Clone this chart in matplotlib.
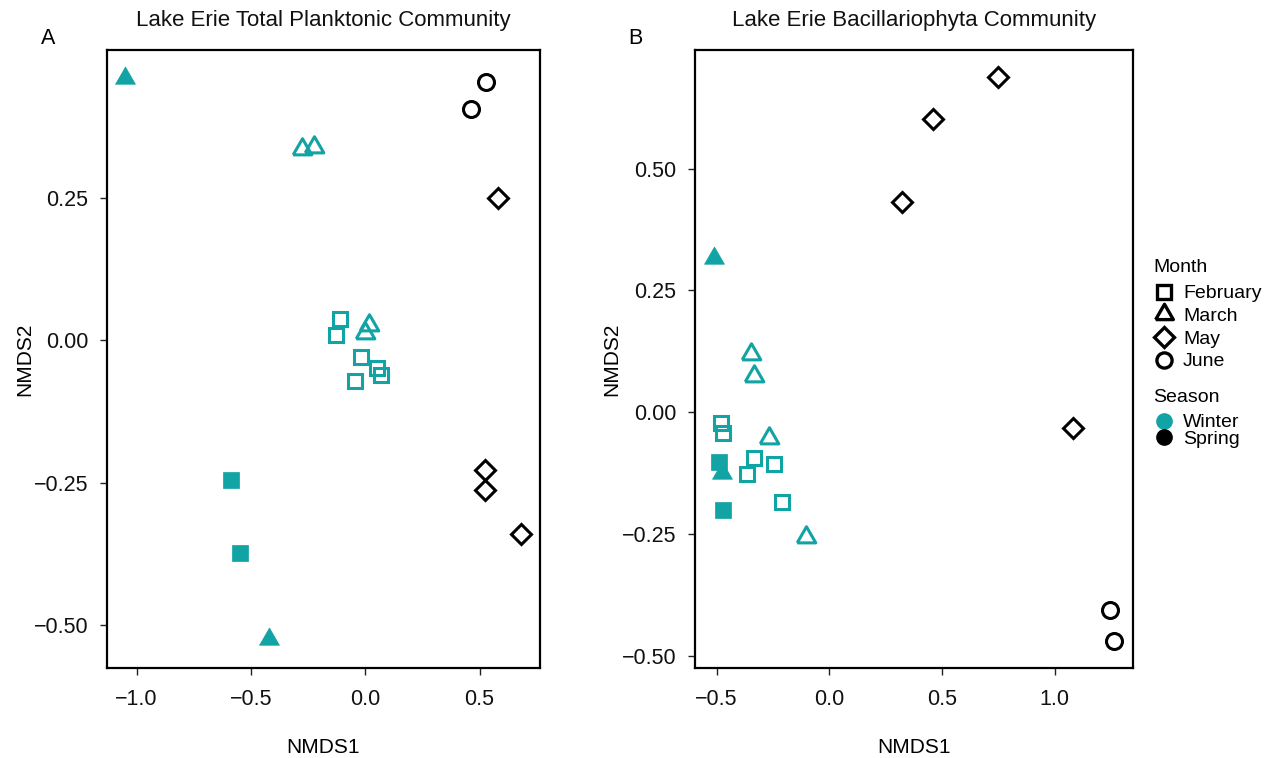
import numpy as np
import matplotlib
matplotlib.use("Agg")
import matplotlib.pyplot as plt
from matplotlib.lines import Line2D

plt.rcParams["font.family"] = ["Liberation Sans", "DejaVu Sans"]

TEAL = "#12a3a5"
BLACK = "#000000"

months = ["February", "March", "May", "June"]
seasons = ["Winter", "Spring"]
month_season = {"February": "Winter", "March": "Winter", "May": "Spring", "June": "Spring"}

# Panel A: Total planktonic community
a_month = ["March", "June", "June", "March", "March", "May",
           "February", "February", "February", "February", "February", "February",
           "March", "March", "February", "February", "March",
           "May", "May", "May"]
a_filled = [1, 0, 0, 0, 0, 0,
            0, 0, 0, 0, 0, 0,
            0, 0, 1, 1, 1,
            0, 0, 0]
a_x = [-1.05, 0.53, 0.462, -0.278, -0.224, 0.582,
       -0.111, -0.130, -0.020, 0.050, 0.069, -0.044,
       0.018, 0.000, -0.589, -0.548, -0.420,
       0.522, 0.522, 0.679]
a_y = [0.460, 0.453, 0.406, 0.335, 0.339, 0.249,
       0.038, 0.009, -0.030, -0.048, -0.061, -0.072,
       0.026, 0.012, -0.246, -0.374, -0.525,
       -0.228, -0.262, -0.340]

# Panel B: Bacillariophyta community
b_month = ["May", "May", "May", "May",
           "March", "March", "March", "March", "March",
           "February", "February", "February", "February", "February", "February",
           "February", "March", "February",
           "June", "June"]
b_filled = [0, 0, 0, 0,
            1, 0, 0, 0, 0,
            0, 0, 0, 0, 0, 0,
            1, 1, 1,
            0, 0]
b_x = [0.750, 0.462, 0.323, 1.079,
       -0.512, -0.349, -0.334, -0.266, -0.105,
       -0.482, -0.470, -0.334, -0.367, -0.245, -0.210,
       -0.488, -0.478, -0.473,
       1.246, 1.261]
b_y = [0.687, 0.601, 0.432, -0.031,
       0.316, 0.119, 0.075, -0.052, -0.255,
       -0.022, -0.043, -0.094, -0.126, -0.106, -0.184,
       -0.101, -0.125, -0.200,
       -0.406, -0.469]

# equilateral triangle marker centred on its centroid
TRI = [(-1.0, -0.577), (1.0, -0.577), (0.0, 1.155), (-1.0, -0.577)]
shape = {"February": "s", "March": TRI, "May": "D", "June": "o"}
open_size = {"February": 10.5, "March": 15.5, "May": 10.5, "June": 11.5}
fill_size = {"February": 11.8, "March": 16.5, "May": 11, "June": 12}
season_color = {"Winter": TEAL, "Spring": BLACK}


def draw_points(ax, mon, fil, xs, ys):
    for m, f, x, y in zip(mon, fil, xs, ys):
        c = season_color[month_season[m]]
        if f:
            ax.plot(x, y, marker=shape[m], ms=fill_size[m], mfc=c, mec=c,
                    mew=0.5, ls="none")
        else:
            ax.plot(x, y, marker=shape[m], ms=open_size[m], mfc="none", mec=c,
                    mew=2.2, ls="none")


def style_axes(ax, xlim, ylim, xticks, yticks, ylab_x):
    ax.set_xlim(*xlim)
    ax.set_ylim(*ylim)
    ax.set_xticks(xticks)
    ax.set_yticks(yticks)
    ax.set_xticklabels([f"{t:.1f}".replace("-", "\u2212") for t in xticks])
    ax.set_yticklabels([f"{t:.2f}".replace("-", "\u2212") for t in yticks])
    ax.tick_params(direction="out", length=5, width=1.0, labelsize=15.5,
                   colors="#222222", labelcolor="#111111")
    ax.tick_params(axis="x", pad=10)
    ax.tick_params(axis="y", pad=8.5)
    for sp in ax.spines.values():
        sp.set_linewidth(1.6)
        sp.set_color("black")
    ax.set_xlabel("NMDS1", fontsize=15)
    ax.set_ylabel("NMDS2", fontsize=15)
    ax.xaxis.set_label_coords(0.5, -0.113)
    ax.yaxis.set_label_coords(ylab_x, 0.5)


fig = plt.figure(figsize=(12.68, 7.58), dpi=100)
ax1 = fig.add_axes([107 / 1268, 1 - 668 / 758, 433 / 1268, 618 / 758])
ax2 = fig.add_axes([695 / 1268, 1 - 668 / 758, 438 / 1268, 618 / 758])

draw_points(ax1, a_month, a_filled, a_x, a_y)
draw_points(ax2, b_month, b_filled, b_x, b_y)

style_axes(ax1, (-1.129, 0.764), (-0.575, 0.509),
           [-1.0, -0.5, 0.0, 0.5], [0.25, 0.0, -0.25, -0.5], -0.167)
style_axes(ax2, (-0.596, 1.347), (-0.524, 0.743),
           [-0.5, 0.0, 0.5, 1.0], [0.5, 0.25, 0.0, -0.25, -0.5], -0.168)

ax1.set_title("Lake Erie Total Planktonic Community", fontsize=16, pad=17,
              color="#111111")
ax2.set_title("Lake Erie Bacillariophyta Community", fontsize=16, pad=17,
              color="#111111")
fig.text(48 / 1268, 1 - 38 / 758, "A", fontsize=15.5, ha="center", va="center")
fig.text(635 / 1268, 1 - 38 / 758, "B", fontsize=15.5, ha="center", va="center")

# legends (titles drawn as separate text)
fig.text(1153 / 1268, 1 - 267 / 758, "Month", fontsize=14, ha="left", va="center")
month_handles = [Line2D([], [], ls="none", marker=shape[m], ms=open_size[m] * 0.95,
                        mfc="none", mec="black", mew=2.4) for m in months]
fig.legend(month_handles, months, loc="upper left",
           bbox_to_anchor=(1146 / 1268, 1 - 275 / 758), frameon=False,
           fontsize=14, handlelength=0.9, handletextpad=0.5,
           labelspacing=0.26, borderpad=0)

fig.text(1153 / 1268, 1 - 398 / 758, "Season", fontsize=14, ha="left", va="center")
season_handles = [Line2D([], [], ls="none", marker="o", ms=11,
                         mfc=season_color[s], mec=season_color[s]) for s in seasons]
fig.legend(season_handles, seasons, loc="upper left",
           bbox_to_anchor=(1146 / 1268, 1 - 404 / 758), frameon=False,
           fontsize=14, handlelength=0.9, handletextpad=0.5,
           labelspacing=-0.05, borderpad=0)

fig.savefig("out.png", dpi=100)
